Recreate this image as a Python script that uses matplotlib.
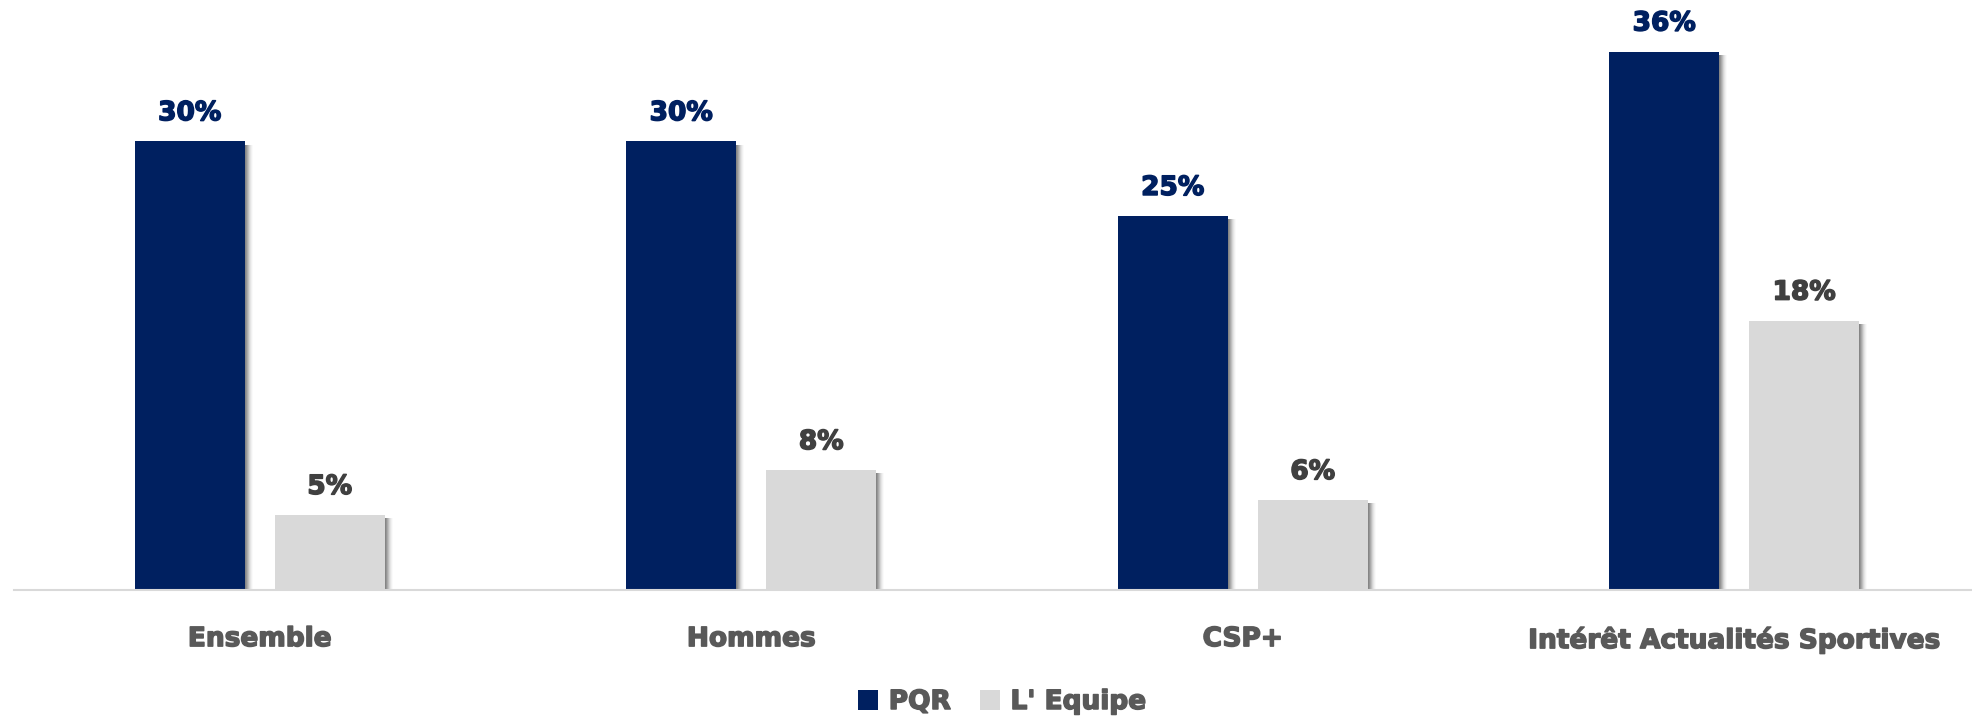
import numpy as np
import matplotlib
matplotlib.use('Agg')
from matplotlib import pyplot as plt
from matplotlib.transforms import ScaledTranslation
import matplotlib.patheffects as pe

categories = ['Ensemble', 'Hommes', 'CSP+', 'Intérêt Actualités Sportives']
pqr = [30, 30, 25, 36]
equipe = [5, 8, 6, 18]
series_names = ['PQR', "L' Equipe"]

navy = '#002060'
grey = '#D9D9D9'
text_grey = '#595959'
label_grey = '#404040'

plt.rcParams['font.family'] = ['DejaVu Sans']


def heavy(col):
    # thicken DejaVu bold a little so it reads like the heavier original face
    return [pe.Stroke(linewidth=1.1, foreground=col), pe.Normal()]


W, H = 1972, 719
fig = plt.figure(figsize=(W / 100, H / 100), dpi=100)
# axes placed in pixel terms: baseline at y=590, group pitch ~491.5 px
ax = fig.add_axes([14 / W, (H - 590) / H, (W - 14) / W, 38 * 14.95 / H])

x = np.arange(len(categories))
off = 70 / 491.5
bw = 110 / 491.5

# soft drop shadow: a few offset bars with falling alpha
for k, a in [(1, 0.30), (2, 0.26), (3, 0.22), (4, 0.17), (5, 0.12), (6, 0.08), (7, 0.05), (8, 0.03)]:
    sh = ax.transData + ScaledTranslation(k * 0.72 / 72, -2.2 / 72, fig.dpi_scale_trans)
    ax.bar(x - off, pqr, bw, color='#606060', alpha=a, transform=sh, zorder=1, linewidth=0)
    ax.bar(x + off, equipe, bw, color='#606060', alpha=a, transform=sh, zorder=1, linewidth=0)

b1 = ax.bar(x - off, pqr, bw, color=navy, label=series_names[0], zorder=3, linewidth=0)
b2 = ax.bar(x + off, equipe, bw, color=grey, label=series_names[1], zorder=3, linewidth=0)

for t in ax.bar_label(b1, labels=[f'{v}%' for v in pqr], padding=11, color=navy,
                      fontsize=19, fontweight='bold'):
    t.set_path_effects(heavy(navy))
for t in ax.bar_label(b2, labels=[f'{v}%' for v in equipe], padding=11, color=label_grey,
                      fontsize=19, fontweight='bold'):
    t.set_path_effects(heavy(label_grey))

ax.set_xlim(-0.5, -0.5 + (W - 14) / 491.5)
ax.set_ylim(0, 38)
ax.set_xticks(x)
ax.set_xticklabels(categories, fontsize=19, fontweight='bold', color=text_grey)
for t in ax.get_xticklabels():
    t.set_path_effects(heavy(text_grey))
ax.tick_params(axis='x', length=0, pad=26)
ax.set_yticks([])
for s in ['top', 'right', 'left']:
    ax.spines[s].set_visible(False)
ax.spines['bottom'].set_color(grey)
ax.spines['bottom'].set_linewidth(1.5)
ax.spines['bottom'].set_zorder(4)

leg = fig.legend(handles=[b1, b2], labels=series_names, loc='center',
                 bbox_to_anchor=(1002 / W, (H - 702) / H), ncol=2, frameon=False,
                 handlelength=0.76, handleheight=0.76, handletextpad=0.4,
                 columnspacing=1.1, prop={'size': 19, 'weight': 'bold'})
for t in leg.get_texts():
    t.set_color(text_grey)
    t.set_path_effects(heavy(text_grey))

fig.savefig('out.png', dpi=100, facecolor='white')
